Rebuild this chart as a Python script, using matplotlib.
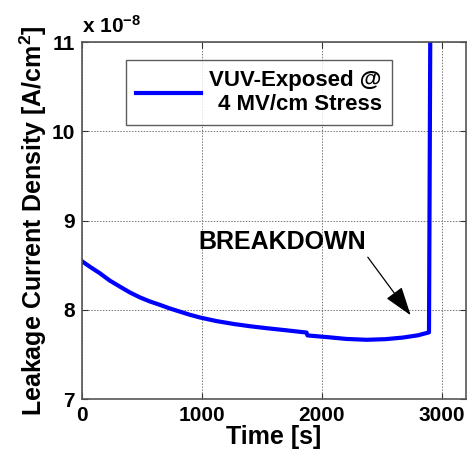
import numpy as np
import matplotlib
matplotlib.use('Agg')
import matplotlib.pyplot as plt

plt.rcParams['font.family'] = ['Liberation Sans', 'DejaVu Sans']
plt.rcParams['font.weight'] = 'bold'
plt.rcParams['mathtext.fontset'] = 'custom'
plt.rcParams['mathtext.rm'] = 'Liberation Sans:bold'
plt.rcParams['mathtext.bf'] = 'Liberation Sans:bold'
plt.rcParams['mathtext.default'] = 'bf'

# stress time [s] and leakage current density [x 1e-8 A/cm^2]
time_s = [0, 75, 150, 230, 317, 400, 483, 565, 650, 735, 817, 900, 983, 1120,
          1261, 1400, 1539, 1700, 1872, 1880, 2053, 2200, 2372, 2530, 2675,
          2800, 2893, 2905]
current = [8.545, 8.475, 8.41, 8.33, 8.26, 8.195, 8.14, 8.095, 8.056, 8.015,
           7.98, 7.945, 7.915, 7.875, 7.843, 7.817, 7.795, 7.772, 7.746,
           7.714, 7.694, 7.675, 7.665, 7.672, 7.69, 7.715, 7.748, 11.5]

fig, ax = plt.subplots(figsize=(4.71, 4.62), dpi=100)
fig.subplots_adjust(left=0.174, right=0.989, top=0.909, bottom=0.136)

ax.plot(time_s, current, color='#0000ff', lw=3,
        label='VUV-Exposed @\n4 MV/cm Stress')

ax.set_xlim(0, 3200)
ax.set_ylim(7, 11)
ax.set_xticks([0, 1000, 2000, 3000])
ax.set_yticks([7, 8, 9, 10, 11])
ax.grid(True, color='#777777', linestyle=(0, (1.5, 1.5)), linewidth=0.7)
ax.tick_params(direction='in', top=True, right=True, labelsize=15, length=4,
               color='#333333', pad=5)
for s in ax.spines.values():
    s.set_color('#555555')
    s.set_linewidth(1.2)

ax.set_xlabel('Time [s]', fontsize=18, fontweight='bold', labelpad=0)
ax.set_ylabel('Leakage Current Density [A/cm$^2$]', fontsize=18,
              fontweight='bold', labelpad=2)
ax.text(0.0, 1.015, r'x 10$^{-8}$', transform=ax.transAxes, fontsize=15,
        fontweight='bold', ha='left', va='bottom')

ax.text(1667, 8.76, 'BREAKDOWN', fontsize=18, fontweight='bold',
        ha='center', va='center')
ax.annotate('', xy=(2740, 7.94), xytext=(2383, 8.59),
            arrowprops=dict(arrowstyle='-|>,head_length=0.9,head_width=0.3',
                            color='black', lw=0.9, mutation_scale=20,
                            shrinkA=0, shrinkB=0))

leg = ax.legend(loc='upper left', bbox_to_anchor=(0.115, 0.95), fontsize=16,
                frameon=True, fancybox=False, handlelength=2.9,
                borderpad=0.45, handletextpad=0.4, borderaxespad=0)
leg.get_frame().set_edgecolor('#333333')
leg.get_frame().set_linewidth(1)
for t in leg.get_texts():
    t.set_ha('right')

fig.savefig('out.png', dpi=100)
